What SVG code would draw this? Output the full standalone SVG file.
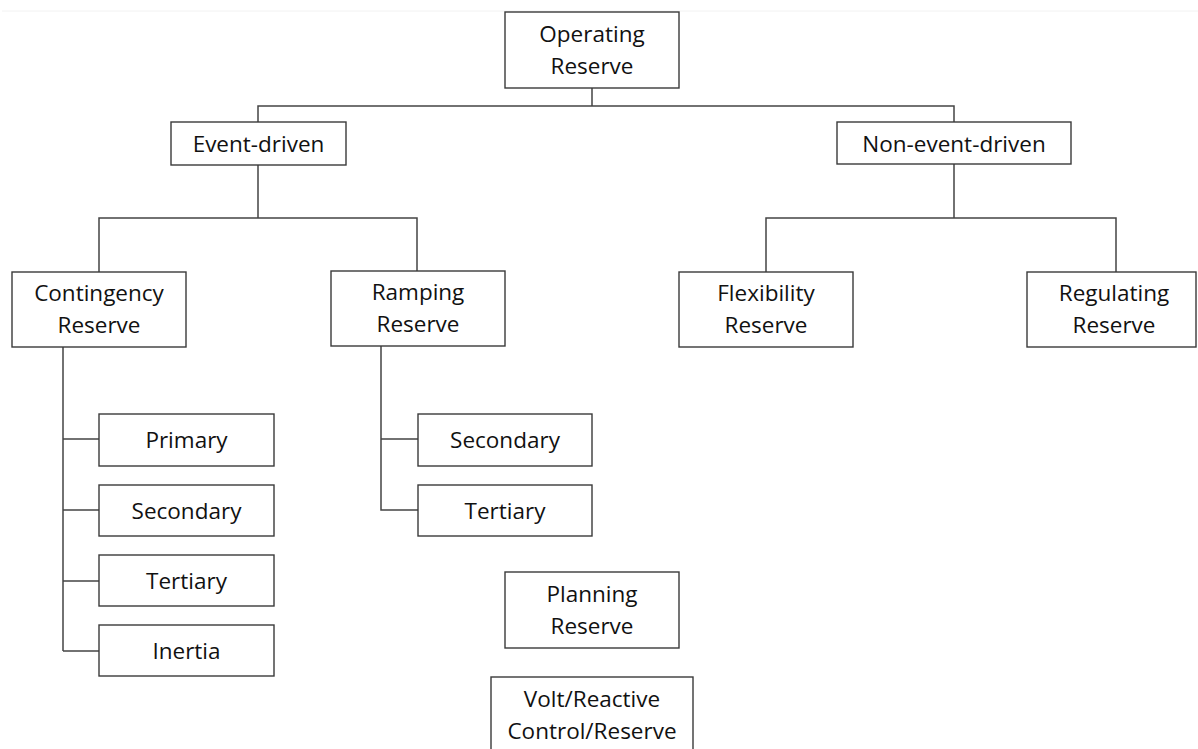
<svg xmlns="http://www.w3.org/2000/svg" width="1198" height="749" viewBox="0 0 1198 749">
<style>
.box{fill:#ffffff;stroke:#3a3a3a;stroke-width:1.4}
.lbl{font-family:"Open Sans","Noto Sans","Liberation Sans",sans-serif;font-size:22.5px;fill:#111;text-anchor:middle;font-variant-ligatures:none}
.conn{fill:none;stroke:#444;stroke-width:1.5}
</style>
<rect x="0" y="0" width="1198" height="749" fill="#ffffff"/>
<line x1="2" y1="11" x2="1198" y2="11" stroke="#f2f2f2" stroke-width="1"/>
<g id="connectors">
<path class="conn" d="M592,88 V106 M258,122 V106 H954 V122"/>
<path class="conn" d="M258,165 V218 M99,272 V218 H417 V271"/>
<path class="conn" d="M954,164 V218 M766,272 V218 H1116 V272"/>
<path class="conn" d="M63,347 V651 M63,439 H99 M63,510 H99 M63,581 H99 M63,651 H99"/>
<path class="conn" d="M381,346 V510 H418 M381,439 H418"/>
</g>
<g id="operating"><rect class="box" x="505" y="12" width="174" height="76"/><text class="lbl" x="592" y="41.5">Operating</text><text class="lbl" x="592" y="73.5">Reserve</text></g>
<g id="event"><rect class="box" x="171" y="122" width="175" height="43"/><text class="lbl" x="258.5" y="152">Event-driven</text></g>
<g id="nonevent"><rect class="box" x="837" y="122" width="234" height="42"/><text class="lbl" x="954" y="151.5">Non-event-driven</text></g>
<g id="contingency"><rect class="box" x="12" y="272" width="174" height="75"/><text class="lbl" x="99" y="301">Contingency</text><text class="lbl" x="99" y="333">Reserve</text></g>
<g id="ramping"><rect class="box" x="331" y="271" width="174" height="75"/><text class="lbl" x="418" y="300">Ramping</text><text class="lbl" x="418" y="332">Reserve</text></g>
<g id="flexibility"><rect class="box" x="679" y="272" width="174" height="75"/><text class="lbl" x="766" y="301">Flexibility</text><text class="lbl" x="766" y="333">Reserve</text></g>
<g id="regulating"><rect class="box" x="1027" y="272" width="169" height="75"/><text class="lbl" x="1114" y="301">Regulating</text><text class="lbl" x="1114" y="333">Reserve</text></g>
<g id="c-primary"><rect class="box" x="99" y="414" width="175" height="52"/><text class="lbl" x="186.5" y="448">Primary</text></g>
<g id="c-secondary"><rect class="box" x="99" y="485" width="175" height="51"/><text class="lbl" x="186.5" y="518.5">Secondary</text></g>
<g id="c-tertiary"><rect class="box" x="99" y="555" width="175" height="51"/><text class="lbl" x="186.5" y="588.5">Tertiary</text></g>
<g id="c-inertia"><rect class="box" x="99" y="625" width="175" height="51"/><text class="lbl" x="186.5" y="658.5">Inertia</text></g>
<g id="r-secondary"><rect class="box" x="418" y="414" width="174" height="52"/><text class="lbl" x="505" y="448">Secondary</text></g>
<g id="r-tertiary"><rect class="box" x="418" y="485" width="174" height="51"/><text class="lbl" x="505" y="518.5">Tertiary</text></g>
<g id="planning"><rect class="box" x="505" y="572" width="174" height="76"/><text class="lbl" x="592" y="601.5">Planning</text><text class="lbl" x="592" y="633.5">Reserve</text></g>
<g id="volt"><rect class="box" x="491" y="677" width="202" height="80"/><text class="lbl" x="592" y="706.5">Volt/Reactive</text><text class="lbl" x="592" y="738.5">Control/Reserve</text></g>
</svg>
